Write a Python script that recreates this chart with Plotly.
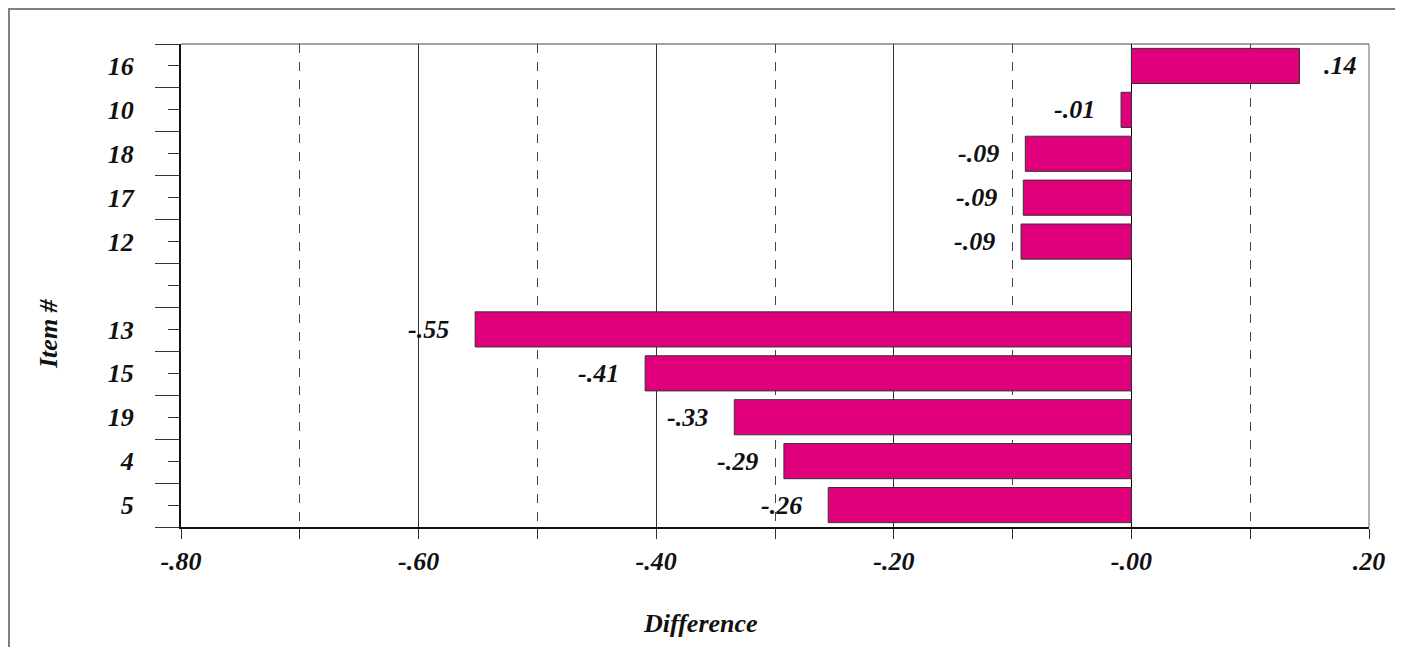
import plotly.graph_objects as go

# ---- data ----
items = ["16", "10", "18", "17", "12", " ", "13", "15", "19", "4", "5"]
differences = [0.1415, -0.0087, -0.0893, -0.0910, -0.0929, None, -0.5524, -0.4093, -0.3343, -0.2925, -0.2552]
value_labels = [".14", "-.01", "-.09", "-.09", "-.09", "", "-.55", "-.41", "-.33", "-.29", "-.26"]
x_tick_vals = [-0.8, -0.6, -0.4, -0.2, 0.0, 0.2]
x_tick_text = ["-.80", "-.60", "-.40", "-.20", "-.00", ".20"]
x_minor_vals = [-0.7, -0.5, -0.3, -0.1, 0.1]

FONT = "Liberation Serif"
BAR_COLOR = "#E0007C"
FS = 26

# page body has an 8px margin; plot area should span x 181..1369, y 44..527 on screen
W, H = 1395, 639
ML, MT = 173, 36
PW, PH = 1188, 483
MR, MB = W - ML - PW, H - MT - PH

fig = go.Figure()
fig.add_trace(go.Bar(
    x=differences, y=items, orientation="h",
    width=0.8,
    marker=dict(color=BAR_COLOR, line=dict(color="#333333", width=1)),
    hoverinfo="skip", showlegend=False,
    xaxis="x", yaxis="y",
))
# invisible helper trace for the secondary (centre tick) axis
fig.add_trace(go.Scatter(
    x=[0 for _ in items], y=items, mode="markers",
    marker=dict(opacity=0), hoverinfo="skip", showlegend=False,
    xaxis="x", yaxis="y2",
))

annotations = []
# value labels (y given as category index so numeric-looking names are not misread)
for idx, (v, lab) in enumerate(zip(differences, value_labels)):
    if v is None:
        continue
    pos = v >= 0
    annotations.append(dict(
        x=v, y=idx, xref="x", yref="y", text=f"<b><i>{lab}</i></b>",
        showarrow=False, xanchor="left" if pos else "right",
        xshift=22 if pos else -24,
        font=dict(family=FONT, size=FS, color="#111111"),
    ))

annotations += [
    dict(text="<b><i>Item #</i></b>", xref="paper", yref="paper",
         x=(48 - 181) / PW, y=(527 - 334) / PH, textangle=-90,
         showarrow=False, xanchor="center", yanchor="middle",
         font=dict(family=FONT, size=FS, color="#111111")),
    dict(text="<b><i>Difference</i></b>", xref="paper", yref="paper",
         x=(700 - 181) / PW, y=(527 - 623) / PH,
         showarrow=False, xanchor="center", yanchor="middle",
         font=dict(family=FONT, size=FS, color="#111111")),
]

tickfont = dict(family=FONT, size=FS, color="#111111")

fig.update_layout(
    width=W, height=H,
    margin=dict(l=ML, r=MR, t=MT, b=MB, pad=0),
    paper_bgcolor="white", plot_bgcolor="white",
    xaxis=dict(
        range=[-0.8, 0.2], tickmode="array", tickvals=x_tick_vals,
        ticktext=[f"<b><i>{t}</i></b>" for t in x_tick_text],
        tickfont=tickfont, ticks="outside", ticklen=10, tickcolor="#333333",
        ticklabelstandoff=0,
        showgrid=True, gridcolor="#333333", gridwidth=1,
        zeroline=True, zerolinecolor="#000000", zerolinewidth=1.2,
        showline=True, linecolor="#111111", linewidth=2, mirror=False,
        minor=dict(tickmode="array", tickvals=x_minor_vals, ticks="outside",
                   ticklen=10, tickcolor="#333333", showgrid=True,
                   gridcolor="#444444", griddash="dash", gridwidth=1),
        fixedrange=True,
    ),
    yaxis=dict(
        type="category", categoryorder="array", categoryarray=items,
        range=[len(items) - 0.5, -0.5],
        tickson="boundaries", ticks="outside", ticklen=24, tickcolor="#333333",
        tickfont=tickfont,
        tickvals=items, ticktext=[f"<b><i>{t}</i></b>" if t.strip() else "" for t in items],
        ticklabelstandoff=40,
        showgrid=False, zeroline=False,
        showline=True, linecolor="#111111", linewidth=2, mirror=False,
        fixedrange=True,
    ),
    yaxis2=dict(
        type="category", categoryorder="array", categoryarray=items,
        range=[len(items) - 0.5, -0.5], overlaying="y", side="left",
        ticks="outside", ticklen=12, tickcolor="#333333",
        showticklabels=False, showgrid=False, zeroline=False, showline=False,
        fixedrange=True,
    ),
    shapes=[
        dict(type="line", xref="paper", yref="paper", x0=0, x1=1, y0=1, y1=1,
             line=dict(color="#444444", width=1)),
        dict(type="line", xref="paper", yref="paper", x0=1, x1=1, y0=0, y1=1,
             line=dict(color="#666666", width=1)),
        dict(type="rect", xref="paper", yref="paper",
             x0=(9 - 181) / PW, x1=(1430 - 181) / PW,
             y0=(527 - 680) / PH, y1=(527 - 9) / PH,
             line=dict(color="#808080", width=2), layer="below"),
    ],
    annotations=annotations,
)

fig.write_html("out.html")
